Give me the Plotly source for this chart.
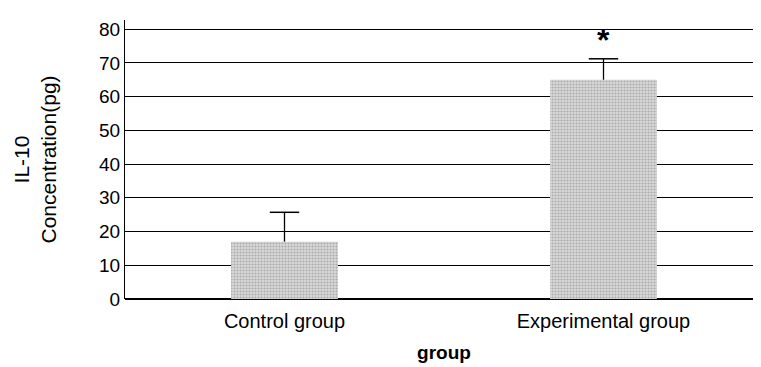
import plotly.graph_objects as go

categories = ["Control group", "Experimental group"]
values = [17, 65]
errors = [8.7, 6.2]
y_ticks = [0, 10, 20, 30, 40, 50, 60, 70, 80]

tops = [v + e for v, e in zip(values, errors)]

fig = go.Figure()
fig.add_trace(go.Bar(
    x=categories, y=values,
    marker=dict(color="#cccccc", line=dict(width=0),
                pattern=dict(shape=".", fgcolor="#777777", bgcolor="#dadada", size=3, solidity=0.4)),
    width=0.335,
))
# upper-only error bars: stem + cap
for c, v, t in zip(categories, values, tops):
    fig.add_trace(go.Scatter(x=[c, c], y=[v, t], mode="lines",
                             line=dict(color="black", width=1.3), hoverinfo="skip"))
    fig.add_trace(go.Scatter(x=[c], y=[t], mode="markers",
                             marker=dict(symbol="line-ew", size=21, line=dict(color="black", width=1.5)),
                             hoverinfo="skip"))
fig.add_annotation(x=categories[1], y=tops[1] + 5.5, text="<b>*</b>",
                   showarrow=False, font=dict(size=32, color="black"))

fig.update_layout(
    width=761, height=367,
    margin=dict(l=117, r=6, t=12, b=76),
    plot_bgcolor="white", paper_bgcolor="white",
    font=dict(family="Liberation Sans, Arial, sans-serif", color="black", size=19),
    showlegend=False,
    xaxis=dict(showline=False, ticks="", showgrid=False, ticklabelstandoff=8,
               title=dict(text="<b>group</b>", font=dict(size=19), standoff=14),
               tickfont=dict(size=20)),
    yaxis=dict(range=[0, 82.7], tickvals=y_ticks, showgrid=True, gridcolor="black", gridwidth=1,
               showline=True, linecolor="black", linewidth=1, zeroline=True, zerolinecolor="black",
               ticks="", tickfont=dict(size=19),
               title=dict(text="IL-10<br>Concentration(pg)", font=dict(size=21), standoff=36)),
)
fig.write_html("out.html")
